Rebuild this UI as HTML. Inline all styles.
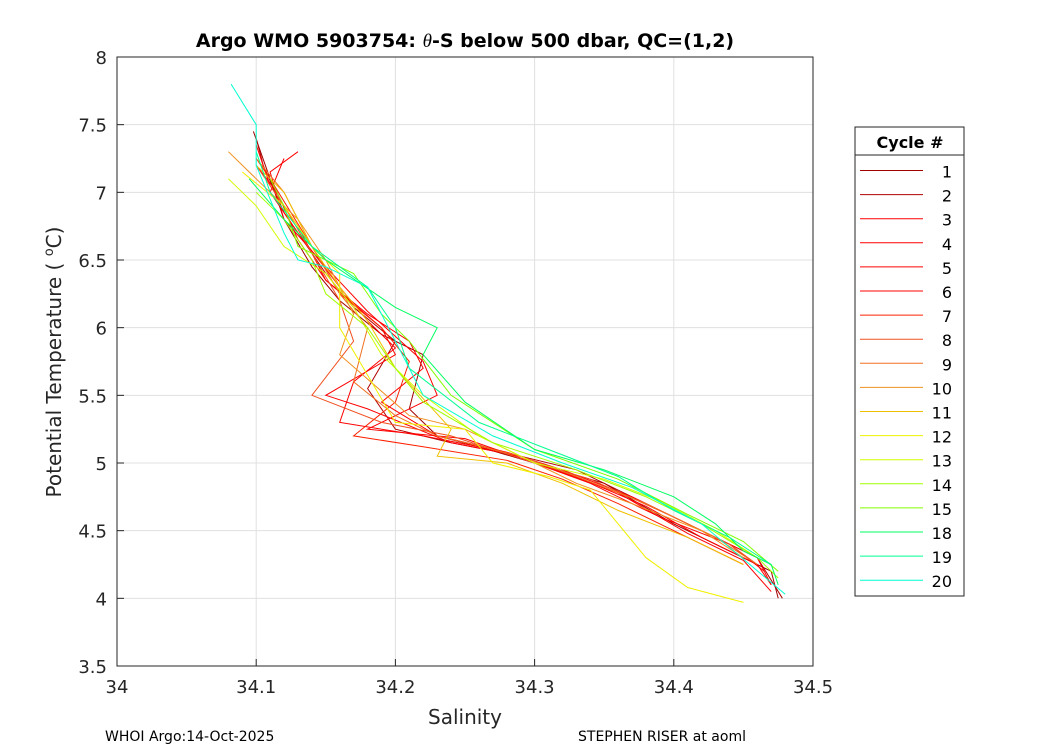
<!DOCTYPE html>
<html><head><meta charset="utf-8"><style>
body{margin:0;background:#fff;}
svg text{font-family:"DejaVu Sans","Liberation Sans",sans-serif;}
</style></head><body>
<svg id="chart" width="1050" height="750" xmlns="http://www.w3.org/2000/svg">
<rect x="0" y="0" width="1050" height="750" fill="#fff"/>
<rect x="117" y="57" width="696" height="609" fill="#fff" stroke="none"/>
<g id="grid"></g>
<g id="series"></g>
<rect x="117" y="57" width="696" height="609" fill="none" stroke="#262626" stroke-width="1"/>
<g id="ticks"></g>
<text x="465" y="47" text-anchor="middle" font-size="19" font-weight="bold" fill="#000">Argo WMO 5903754: <tspan font-style="italic" font-weight="normal" font-family="Liberation Serif,serif">θ</tspan>-S below 500 dbar,  QC=(1,2)</text>
<text x="465" y="724" text-anchor="middle" font-size="20" fill="#262626">Salinity</text>
<text transform="translate(61,362) rotate(-90)" text-anchor="middle" font-size="20" fill="#262626">Potential Temperature ( <tspan dy="-8" font-size="13">o</tspan><tspan dy="8">C)</tspan></text>
<text x="105" y="741" font-size="14" fill="#000">WHOI Argo:14-Oct-2025</text>
<text x="578" y="741" font-size="14" fill="#000">STEPHEN RISER at aoml</text>
<g id="legend"></g>
</svg>
<script>
const xTicks=[34,34.1,34.2,34.3,34.4,34.5];
const xTickLabels=["34","34.1","34.2","34.3","34.4","34.5"];
const yTicks=[3.5,4,4.5,5,5.5,6,6.5,7,7.5,8];
const yTickLabels=["3.5","4","4.5","5","5.5","6","6.5","7","7.5","8"];
const cycles=["1","2","3","4","5","6","7","8","9","10","11","12","13","14","15","18","19","20"];
const colors=["#a00000","#b00000","#ff0000","#ff0000","#ff0000","#ff0000","#ff2000","#f05020","#f07020","#f09020","#f0c000","#f0f000","#d0ff00","#a0ff00","#80ff00","#00ff60","#00ff90","#00ffd0"];
const sal=[
[34.098,34.11,34.12,34.14,34.16,34.19,34.22,34.21,34.23,34.26,34.3,34.35,34.4,34.44,34.47,34.475],
[34.1,34.105,34.12,34.15,34.17,34.2,34.18,34.2,34.24,34.29,34.33,34.38,34.43,34.46,34.478],
[34.1,34.11,34.13,34.15,34.18,34.21,34.22,34.19,34.23,34.28,34.32,34.37,34.42,34.46,34.47],
[34.12,34.11,34.13,34.16,34.18,34.2,34.17,34.16,34.22,34.27,34.31,34.36,34.41,34.45,34.47],
[34.13,34.11,34.12,34.15,34.18,34.22,34.23,34.18,34.25,34.3,34.34,34.39,34.44,34.465],
[34.1,34.115,34.13,34.15,34.19,34.2,34.15,34.18,34.24,34.29,34.33,34.38,34.42,34.46,34.47],
[34.1,34.11,34.14,34.16,34.19,34.21,34.2,34.17,34.22,34.28,34.32,34.36,34.41,34.45],
[34.1,34.12,34.14,34.16,34.17,34.14,34.19,34.24,34.3,34.34,34.4,34.44,34.46],
[34.1,34.12,34.14,34.16,34.18,34.17,34.2,34.23,34.29,34.33,34.38,34.43,34.46],
[34.08,34.1,34.13,34.15,34.17,34.16,34.21,34.25,34.3,34.33,34.37,34.42,34.45],
[34.1,34.12,34.14,34.16,34.18,34.2,34.24,34.23,34.28,34.32,34.36,34.41,34.45],
[34.09,34.12,34.14,34.16,34.16,34.2,34.25,34.27,34.31,34.34,34.38,34.41,34.45],
[34.08,34.1,34.12,34.15,34.17,34.19,34.22,34.26,34.3,34.35,34.39,34.43,34.46],
[34.1,34.12,34.14,34.15,34.18,34.2,34.22,34.27,34.33,34.38,34.42,34.46,34.475],
[34.11,34.12,34.13,34.17,34.19,34.21,34.24,34.3,34.36,34.41,34.45,34.475],
[34.095,34.12,34.15,34.2,34.23,34.22,34.25,34.3,34.35,34.4,34.43,34.45,34.47,34.475],
[34.1,34.11,34.14,34.18,34.2,34.21,34.26,34.31,34.36,34.4,34.44,34.47],
[34.082,34.1,34.1,34.12,34.13,34.15,34.18,34.22,34.27,34.32,34.37,34.42,34.48]];
const temp=[
[7.45,7.1,6.8,6.45,6.2,5.95,5.8,5.4,5.2,5.12,5.0,4.85,4.55,4.35,4.2,4.0],
[7.4,7.2,6.85,6.4,6.15,5.9,5.55,5.25,5.15,5.05,4.95,4.7,4.45,4.3,4.0],
[7.35,7.05,6.75,6.35,6.1,5.9,5.7,5.45,5.2,5.08,4.95,4.75,4.5,4.3,4.1],
[7.25,7.0,6.7,6.3,6.05,5.85,5.6,5.3,5.2,5.1,4.97,4.78,4.48,4.28,4.05],
[7.3,7.15,6.8,6.45,6.12,5.75,5.5,5.25,5.18,5.0,4.85,4.6,4.4,4.2],
[7.2,7.0,6.65,6.35,6.0,5.8,5.5,5.4,5.15,5.05,4.9,4.68,4.45,4.25,4.1],
[7.25,7.1,6.6,6.25,6.0,5.75,5.45,5.2,5.12,5.02,4.88,4.7,4.45,4.25],
[7.2,6.9,6.55,6.2,5.9,5.5,5.3,5.2,5.0,4.88,4.6,4.4,4.25],
[7.25,7.0,6.6,6.25,6.0,5.6,5.35,5.2,5.05,4.9,4.7,4.45,4.25],
[7.3,7.1,6.8,6.5,6.1,5.8,5.35,5.25,5.0,4.85,4.7,4.5,4.3],
[7.2,7.0,6.6,6.3,6.05,5.7,5.25,5.05,5.0,4.85,4.65,4.45,4.25],
[7.15,6.9,6.6,6.4,6.0,5.3,5.25,5.0,4.9,4.8,4.3,4.08,3.97],
[7.1,6.9,6.6,6.4,6.15,5.8,5.5,5.2,5.0,4.88,4.72,4.5,4.3],
[7.0,6.8,6.5,6.25,6.0,5.7,5.45,5.15,4.95,4.75,4.55,4.3,4.15],
[7.1,6.9,6.6,6.4,6.1,5.9,5.5,5.1,4.88,4.62,4.42,4.2],
[7.1,6.8,6.5,6.15,6.0,5.8,5.45,5.1,4.95,4.75,4.55,4.35,4.25,4.1],
[7.3,7.0,6.6,6.3,6.0,5.7,5.3,5.1,4.9,4.65,4.45,4.25],
[7.8,7.5,7.2,6.7,6.5,6.45,6.3,5.5,5.2,5.0,4.82,4.55,4.03]];
const X0=117,X1=813,Y0=666,Y1=57;
const xs=v=>X0+(v-34)/(34.5-34)*(X1-X0);
const ys=v=>Y0-(v-3.5)/(8-3.5)*(Y0-Y1);
const NS="http://www.w3.org/2000/svg";
function mk(tag,attrs,parent){const e=document.createElementNS(NS,tag);for(const k in attrs)e.setAttribute(k,attrs[k]);parent.appendChild(e);return e;}
const grid=document.getElementById('grid'),ticks=document.getElementById('ticks');
xTicks.forEach((t,i)=>{
 const x=xs(t);
 if(i>0&&i<xTicks.length-1){const g=mk('line',{x1:x,x2:x,y1:Y1,y2:Y0,stroke:'#e0e0e0','stroke-width':1},grid);
 
 }
 const tk=mk('line',{x1:x,x2:x,y1:Y0,y2:Y0-7,stroke:'#262626'},ticks);
 
 
 const tl=mk('text',{x:x,y:Y0+27,'text-anchor':'middle','font-size':18,fill:'#262626'},ticks);
 tl.textContent=xTickLabels[i];
 
 
});
yTicks.forEach((t,i)=>{
 const y=ys(t);
 if(i>0&&i<yTicks.length-1){const g=mk('line',{x1:X0,x2:X1,y1:y,y2:y,stroke:'#e0e0e0','stroke-width':1},grid);
 
 }
 const tk=mk('line',{x1:X0,x2:X0+7,y1:y,y2:y,stroke:'#262626'},ticks);
 
 
 const tl=mk('text',{x:X0-10,y:y+7,'text-anchor':'end','font-size':18,fill:'#262626'},ticks);
 tl.textContent=yTickLabels[i];
 
 
});
const sg=document.getElementById('series');
cycles.forEach((c,i)=>{
 const pts=sal[i].map((s,j)=>xs(s).toFixed(1)+','+ys(temp[i][j]).toFixed(1)).join(' ');
 const p=mk('polyline',{points:pts,fill:'none',stroke:colors[i],'stroke-width':1},sg);
 
 
});
const lg=document.getElementById('legend');
const box=mk('rect',{x:855,y:127,width:109,height:469,fill:'#fff',stroke:'#262626'},lg);


const lt=mk('text',{x:910,y:148,'text-anchor':'middle','font-size':16,'font-weight':'bold',fill:'#000'},lg);
lt.textContent='Cycle #';


mk('line',{x1:855,x2:964,y1:155,y2:155,stroke:'#262626'},lg);
cycles.forEach((c,i)=>{
 const y=170.5+i*24.1;
 const l=mk('line',{x1:860,x2:923,y1:y,y2:y,stroke:colors[i],'stroke-width':1},lg);
 
 
 const t=mk('text',{x:952,y:y+7,'text-anchor':'end','font-size':16,fill:'#000'},lg);
 t.textContent=c;
 
 
});
</script>
</body></html>
